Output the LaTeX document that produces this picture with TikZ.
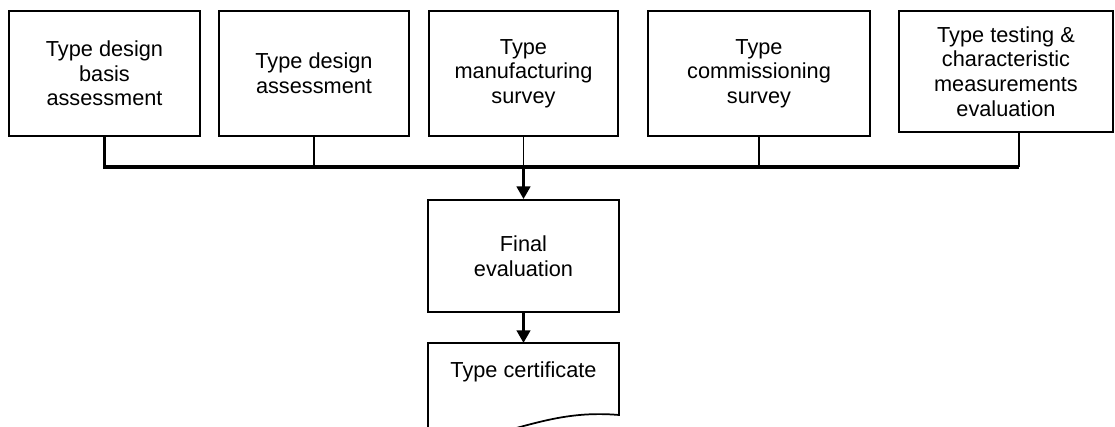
\documentclass[tikz,border=0pt]{standalone}
\usepackage{fontspec}
\setmainfont{Liberation Sans}
\usetikzlibrary{arrows.meta}
\tikzset{
  box/.style={draw, line width=1.3pt, align=center, inner sep=0pt,
    font=\fontsize{16.3}{18.4}\selectfont},
  drop/.style={line width=1.3pt},
  bus/.style={line width=2.3pt},
  arr/.style={line width=2.3pt, -{Triangle[length=9.5pt, width=10pt]}},
}
\begin{document}
\begin{tikzpicture}[x=0.75pt, y=-0.75pt]
    \useasboundingbox (0,0) rectangle (1115,427);
    \node[box, minimum width=143.25pt, minimum height=93.75pt] (basis) at (104.5,73.5) {Type design\\basis\\assessment};
    \node[box, minimum width=142.5pt, minimum height=93.75pt] (design) at (314,73.5) {Type design\\assessment};
    \node[box, minimum width=141.75pt, minimum height=93.75pt] (manuf) at (523.5,73.5) {Type\\manufacturing\\survey};
    \node[box, minimum width=166.5pt, minimum height=93.75pt] (comm) at (759,73.5) {Type\\commissioning\\survey};
    \node[box, minimum width=160.5pt, minimum height=90.75pt] (test) at (1006,71.5) {Type testing \&\\characteristic\\measurements\\evaluation};
    \node[box, minimum width=143.25pt, minimum height=84pt] (final) at (523.5,256) {Final\\evaluation};
    \node[box, draw=none] (cert) at (523.5,372) {Type certificate};
    \coordinate (busL) at (104.5,167);
    \coordinate (busR) at (1019,167);
    \coordinate (certtop) at (523.5,343);
    \draw[bus] (basis.south) -- (busL) -- (busR);
    \draw[drop] (design.south) -- (design.south |- busL);
    \draw[drop] (manuf.south) -- (manuf.south |- busL);
    \draw[drop] (comm.south) -- (comm.south |- busL);
    \draw[drop] (busR |- test.south) -- (busR);
    \draw[arr] (manuf.south |- busL) -- (final.north);
    \draw[arr] (final.south) -- (certtop);
    \draw[line width=1.3pt] (428,440) -- (428,343) -- (619,343) -- (619,415)
        .. controls (540,408) and (500,445) .. (428,440);
\end{tikzpicture}
\end{document}
